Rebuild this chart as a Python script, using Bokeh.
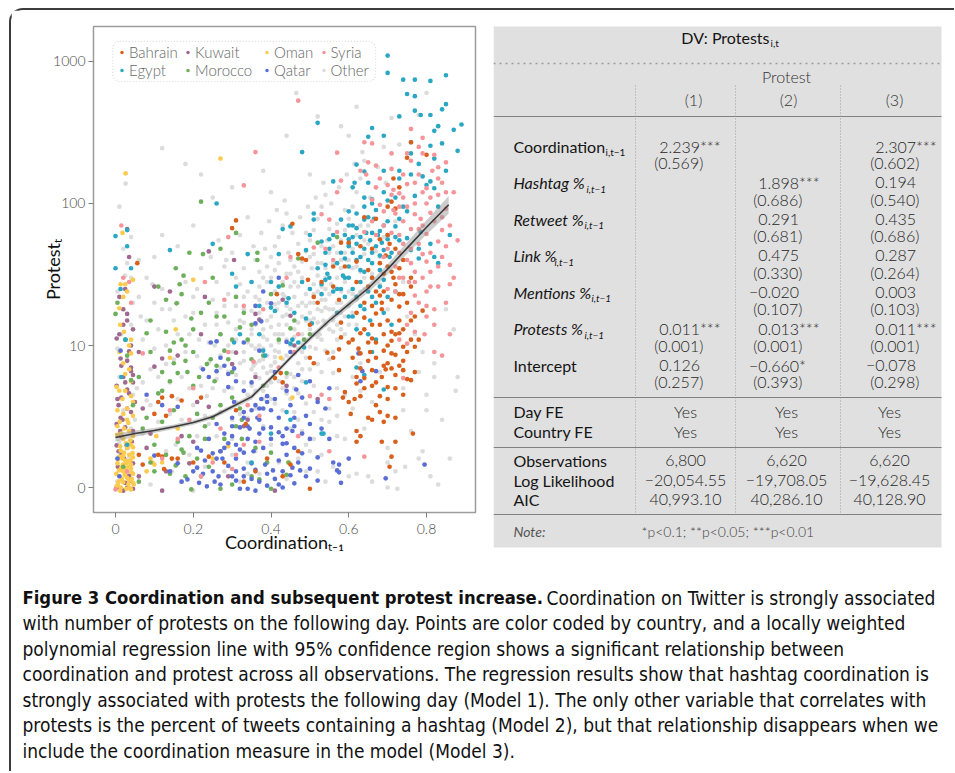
import math
from bokeh.plotting import figure
from bokeh.models import (Range1d, FixedTicker, NumeralTickFormatter, CustomJSTickFormatter,
                          Legend, LegendItem, BoxAnnotation)
from bokeh.layouts import column, row
from bokeh.core.properties import value
from bokeh.embed import file_html
from bokeh.resources import INLINE

# ---------------- data (coordination_{t-1}, protests_t) ----------------
other_pts = [
    (0.005,1.1),(0.02,1.3),(0.035,1.6),(0.01,2.1),(0.04,2.6),(0.02,3.5),(0.045,4.5),(0.01,6),(0.03,8),(0.015,12),
    (0.04,14),(0.005,24),(0.03,38),(0.02,48),(0.045,20),(0.026,138),(0.01,95),(0.04,58),(0.025,31),(0.005,9.5),
    (0.06,1.2),(0.07,2.4),(0.08,4.1),(0.09,6.8),(0.1,9.5),(0.11,13),(0.12,18),(0.13,1.8),(0.14,3.3),(0.06,22),
    (0.08,30),(0.1,42),(0.12,245),(0.14,5.5),(0.13,7.4),(0.09,1.05),(0.11,2.9),(0.07,11),(0.15,15),(0.12,60),
    (0.065,16),(0.095,27),(0.145,1.3),(0.055,5),
    (0.155,2.0),(0.16,4.2),(0.17,6),(0.18,190),(0.18,9),(0.19,12),(0.2,17),(0.21,25),(0.22,35),(0.16,50),
    (0.23,1.4),(0.24,2.8),(0.2,3.8),(0.22,5.2),(0.24,7.6),(0.17,1.1),(0.19,1.7),(0.21,8.4),(0.23,14),(0.25,21),
    (0.2,70),(0.18,28),(0.245,42),(0.16,20),(0.215,11),(0.235,4.4),(0.2,0.95),(0.22,160),(0.25,110),
    (0.26,2.3),(0.27,3.4),(0.28,4.8),(0.29,6.5),(0.3,9),(0.31,11),(0.32,15),(0.33,18),(0.34,24),(0.26,28),
    (0.28,36),(0.3,45),(0.32,60),(0.34,80),(0.27,12),(0.29,14.5),(0.31,19),(0.33,7.8),(0.35,10),(0.26,5.8),
    (0.28,1.3),(0.3,1.7),(0.32,1.1),(0.34,1.5),(0.27,8.5),(0.29,23),(0.31,4),(0.33,5.5),(0.35,6.8),(0.3,130),
    (0.33,35),(0.26,17),(0.34,3.1),(0.28,19),(0.32,27),(0.3,3),(0.255,10),
    (0.36,4.8),(0.37,5.9),(0.38,7),(0.39,8.5),(0.4,10),(0.41,12),(0.42,14),(0.43,16),(0.44,19),(0.36,22),
    (0.37,26),(0.38,30),(0.39,36),(0.4,42),(0.41,50),(0.42,58),(0.43,70),(0.44,85),(0.36,9.5),(0.38,11.5),
    (0.4,13.5),(0.42,9),(0.44,11),(0.35,13),(0.37,17),(0.39,20),(0.41,24),(0.43,28),(0.45,32),(0.36,3.6),
    (0.38,2.7),(0.4,2),(0.42,1.5),(0.44,1.15),(0.37,1.25),(0.41,3.9),(0.43,5),(0.45,6.3),(0.39,6.4),(0.41,7.6),
    (0.36,40),(0.4,120),(0.38,170),(0.44,300),(0.42,38),(0.385,48),(0.435,22),(0.415,18),(0.355,7.2),(0.445,45),
    (0.46,6),(0.47,7.5),(0.48,9),(0.49,11),(0.5,13),(0.51,15.5),(0.52,18),(0.53,21),(0.54,25),(0.46,28),
    (0.47,33),(0.48,39),(0.49,46),(0.5,55),(0.51,65),(0.52,78),(0.53,95),(0.54,115),(0.46,13),(0.48,16),
    (0.5,20),(0.52,24),(0.54,30),(0.47,19),(0.49,23),(0.51,27),(0.53,38),(0.55,45),(0.46,3.4),(0.48,2.5),
    (0.5,1.8),(0.52,1.3),(0.54,1.1),(0.47,4.6),(0.49,3.9),(0.51,5.2),(0.53,6.5),(0.55,8),(0.5,160),(0.48,230),
    (0.52,410),(0.465,600),(0.545,55),(0.505,35),(0.475,10.5),(0.515,9.5),(0.525,12),(0.535,15),
    (0.56,9),(0.57,11),(0.58,13),(0.59,16),(0.6,19),(0.61,23),(0.62,28),(0.63,33),(0.56,38),(0.57,45),
    (0.58,55),(0.59,65),(0.6,78),(0.61,95),(0.62,120),(0.63,150),(0.64,200),(0.56,18),(0.58,24),(0.6,30),
    (0.62,36),(0.64,44),(0.57,3.2),(0.59,4.5),(0.61,6),(0.63,7.5),(0.56,1.4),(0.6,1.2),(0.64,2.6),(0.6,300),
    (0.58,350),(0.62,480),(0.65,70),(0.65,12),(0.555,27),(0.595,40),
    (0.66,4),(0.68,6.5),(0.7,1.9),(0.72,1.3),(0.74,3.5),(0.67,130),(0.69,250),(0.71,400),(0.73,260),(0.7,18),
    (0.68,42),(0.72,75),(0.74,28),(0.66,1.1),(0.75,16),(0.725,0.98),(0.7,1.5),
    (0.76,2.5),(0.78,1.6),(0.8,4.5),(0.82,7.5),(0.84,3),(0.86,1.6),(0.88,6),(0.77,12),(0.79,9),(0.81,1.2),
    (0.83,1.05),(0.85,18),(0.87,13),(0.8,600),(0.78,420),(0.82,6),(0.875,4.8),(0.78,6.5),(0.80,3.5),(0.79,1.8),
    (0.745,1.4),(0.70,1.0),(0.65,1.2),(0.62,1.25),(0.74,5),
    (0.3,5),(0.31,6.2),(0.32,7.5),(0.33,9),(0.34,10.5),(0.35,12),(0.36,14),(0.37,7.8),(0.38,9.5),(0.39,11),
    (0.4,16),(0.41,9.2),(0.42,20),(0.43,12),(0.44,14),(0.45,18),(0.46,22),(0.47,26),(0.48,12),(0.49,15),
    (0.5,17),(0.51,20),(0.52,31),(0.53,26),(0.54,21),(0.55,18),(0.56,24),(0.57,30),(0.58,35),(0.59,28),
    (0.6,40),(0.61,48),(0.62,60),(0.63,70),(0.64,55),(0.45,40),(0.47,52),(0.49,62),(0.51,44),(0.53,50),
    (0.55,66),(0.57,72),(0.59,90),(0.41,34),(0.39,28),(0.37,33),(0.35,28),(0.33,22),(0.31,30),(0.29,10),
    (0.27,7),(0.25,5),(0.23,3.2),(0.21,2.3),(0.19,5),(0.17,3),(0.15,8),(0.13,10),(0.11,6),(0.09,3.8),
    (0.07,5.5),(0.05,3),(0.43,3.5),(0.45,2.6),(0.47,1.6),(0.49,1.3),(0.51,2.2),(0.53,1.7),(0.55,2.9),(0.57,5),
    (0.59,2.2),(0.61,3.6),(0.63,4.8),(0.38,4.2),(0.4,5.5),(0.36,1.8),(0.34,1.25),(0.42,7),(0.44,8.5),
    (0.30,2.2),(0.32,3.3),(0.34,4.5),(0.36,6.3),(0.38,8.0),(0.40,7.2),(0.42,10.5),(0.44,6.0),(0.46,8.8),(0.48,6.8),
    (0.50,9.8),(0.52,11.5),(0.54,14),(0.56,12.5),(0.58,17),(0.60,14),(0.62,21),(0.64,25),(0.66,32),(0.68,27),
    (0.31,13),(0.33,14.5),(0.35,17.5),(0.37,21),(0.39,15),(0.41,19.5),(0.43,23),(0.45,26),(0.47,14.5),(0.49,19),
    (0.51,23),(0.53,17.5),(0.55,23),(0.57,20),(0.59,45),(0.61,35),(0.63,42),(0.65,52),(0.67,46),(0.69,58),
    (0.355,50),(0.375,62),(0.395,75),(0.415,90),(0.435,105),(0.455,62),(0.475,80),(0.495,95),(0.515,110),(0.535,140),
    (0.555,100),(0.575,130),(0.595,160),(0.615,190),(0.635,230),(0.655,110),(0.675,180),(0.695,140),(0.285,40),(0.265,55),
    (0.22,7),(0.24,10.5),(0.26,14),(0.2,22),(0.18,16),(0.16,12),(0.14,18),(0.12,25),(0.1,20),(0.08,15),
    (0.06,40),(0.04,30),(0.02,18),(0.45,4.2),(0.47,3.0),(0.49,2.0),(0.51,3.4),(0.53,3.0),(0.55,3.6),(0.57,2.3),
    (0.35,5.2),(0.36,7.5),(0.37,10),(0.38,13),(0.39,5.2),(0.40,6.6),(0.41,8.3),(0.42,12),(0.43,8),(0.44,16.5),
    (0.45,10),(0.46,11.5),(0.47,9.5),(0.48,20),(0.49,8.2),(0.50,15),(0.51,12),(0.52,14.5),(0.53,11),(0.54,18.5),
    (0.55,13),(0.56,15),(0.57,14),(0.58,20),(0.59,12),(0.60,24),(0.61,17),(0.62,14),(0.63,24),(0.64,30),
    (0.40,30),(0.42,26),(0.44,32),(0.46,36),(0.48,30),(0.50,42),(0.52,38),(0.54,35),(0.56,50),(0.58,40),
    (0.38,4.8),(0.40,4.2),(0.42,5.6),(0.44,4.6),(0.46,5),(0.48,5.6),(0.50,6.8),(0.52,7.4),(0.54,9.2),(0.56,6.4),
]
kuwait_pts = [
    (0.03,16.7),(0.02,14),(0.03,15),(0.003,11.2),(0.013,8.1),(0.03,7.8),(0.04,7.0),(0.045,6.2),(0.02,6.0),(0.045,5.5),
    (0.003,5.2),(0.03,4.9),(0.035,4.6),(0.015,4.3),(0.008,3.8),(0.04,3.4),(0.013,3.1),(0.003,2.8),(0.025,2.65),(0.045,2.5),
    (0.015,2.3),(0.003,1.98),(0.03,1.9),(0.015,1.7),(0.045,1.48),(0.01,1.35),(0.035,1.21),(0.025,1.08),(0.003,1.0),(0.045,0.98),
    (0.02,0.95),(0.04,10),(0.01,22),(0.025,25),(0.12,0.95),(0.19,1.48),(0.17,2.3),(0.20,2.1),(0.21,4.0),(0.24,3.7),
    (0.10,7.1),(0.12,8.1),(0.16,8.5),(0.22,12),(0.31,8.9),(0.30,7.4),(0.37,15.2),(0.45,16.2),(0.36,16.7),(0.43,21),
    (0.44,5.2),(0.52,4.2),(0.34,3.0),(0.33,2.7),(0.41,0.95),(0.29,1.2),(0.03,66),(0.035,42),(0.24,46),(0.305,40),
    (0.10,26),(0.14,24),(0.23,22),(0.07,3.6),(0.09,2.4),(0.13,1.3),(0.27,1.8),(0.36,6.0),(0.46,10),(0.06,9),(0.08,1.9),
    (0.006,1.4),(0.022,1.6),(0.038,1.12),(0.042,2.1),(0.012,2.5),(0.03,3.6),(0.005,4.2),(0.025,5.5),(0.04,6.6),(0.015,7.2),
    (0.035,9.1),(0.01,12),(0.045,13),(0.02,18),(0.03,1.0),(0.018,3.0),(0.008,1.8),(0.05,4.0),(0.06,1.2),(0.028,2.0),
]
oman_pts = [
    (0.025,27),(0.045,29),(0.01,18.3),(0.022,12.5),(0.035,10),(0.04,8.8),(0.02,7.5),(0.003,5.1),(0.025,6.3),(0.04,4.4),
    (0.045,4.0),(0.025,4.8),(0.005,3.5),(0.02,3.3),(0.045,3.2),(0.03,3.0),(0.005,2.7),(0.035,2.5),(0.02,2.2),(0.04,2.0),
    (0.013,1.82),(0.022,1.76),(0.035,1.7),(0.045,1.63),(0.018,1.6),(0.005,1.48),(0.028,1.48),(0.04,1.45),(0.015,1.38),(0.04,1.36),
    (0.025,1.28),(0.045,1.25),(0.01,1.2),(0.03,1.17),(0.035,1.12),(0.02,1.09),(0.045,1.08),(0.003,1.02),(0.028,0.98),(0.04,0.97),
    (0.012,0.95),(0.035,1.4),(0.025,1.55),(0.01,1.65),(0.03,1.9),(0.015,2.4),(0.045,2.3),(0.008,1.1),(0.02,1.3),(0.038,1.55),
    (0.09,1.6),(0.095,1.5),(0.10,1.45),(0.08,1.3),(0.12,1.5),(0.20,29),(0.155,13),(0.14,8.2),(0.425,8.2),(0.29,1.95),
    (0.445,1.5),(0.455,4.3),(0.026,163),(0.018,62),(0.27,207),(0.013,27),(0.03,24),(0.02,22),(0.105,2.3),(0.25,1.6),
    (0.16,2.6),(0.012,14),(0.04,11),(0.035,6.8),(0.01,9),
    (0.006,1.05),(0.016,1.15),(0.024,1.22),(0.033,1.05),(0.042,1.15),(0.009,1.32),(0.019,1.45),(0.031,1.52),(0.044,1.75),(0.012,1.95),
    (0.027,2.05),(0.038,2.15),(0.004,2.35),(0.022,2.6),(0.033,2.85),(0.047,1.05),(0.014,1.0),(0.036,0.99),(0.02,1.68),(0.041,1.28),
    (0.007,1.58),(0.03,3.6),(0.018,4.2),(0.04,5.6),(0.01,4.8),(0.026,1.37),(0.045,1.92),(0.002,1.25),(0.034,2.0),(0.011,2.9),
]
morocco_pts = [
    (0.165,27),(0.175,31),(0.17,23),(0.157,19.8),(0.195,15.5),(0.09,15),(0.08,12.2),(0.13,12.5),(0.15,10.5),(0.17,11),
    (0.14,9.2),(0.20,9),(0.18,7.8),(0.185,6.5),(0.16,6.4),(0.215,6.0),(0.235,7.4),(0.245,8),(0.26,7.2),(0.255,5.6),
    (0.11,4.6),(0.14,5.6),(0.20,5.2),(0.08,3.1),(0.07,2.6),(0.23,2.2),(0.175,1.76),(0.17,1.85),(0.19,2.3),(0.155,1.43),
    (0.195,0.97),(0.22,1.2),(0.14,1.25),(0.15,3.5),(0.12,6.5),(0.03,8.5),(0.0,16.7),(0.005,20),(0.025,11),(0.04,5.7),
    (0.045,3.8),(0.02,1.4),(0.25,30),(0.24,20),(0.26,16),(0.28,16),(0.31,22),(0.33,17),(0.35,14),(0.32,13.4),
    (0.34,11),(0.28,9.2),(0.29,8),(0.30,6.5),(0.30,4.3),(0.32,3.6),(0.325,3.0),(0.31,2.7),(0.28,2.2),(0.325,2.2),
    (0.36,1.9),(0.40,1.76),(0.39,1.5),(0.445,1.5),(0.44,1.23),(0.40,0.98),(0.37,1.14),(0.35,1.2),(0.30,1.05),(0.27,0.98),
    (0.24,1.4),(0.43,26.5),(0.40,23),(0.46,15),(0.45,13.2),(0.485,11),(0.50,12),(0.44,6.4),(0.31,62),(0.365,45),
    (0.365,40),(0.52,53),(0.47,41),(0.57,58),(0.22,103),(0.225,44),(0.155,35),(0.11,26),(0.19,45),(0.27,48),
    (0.10,2.0),(0.12,2.9),(0.21,3.3),(0.06,1.1),(0.09,1.5),(0.38,8.5),(0.42,11),
    (0.1,1.3),(0.13,1.7),(0.16,2.1),(0.18,1.2),(0.21,1.6),(0.23,2.7),(0.25,3.1),(0.27,3.8),(0.12,4.8),(0.15,7.5),
    (0.18,10),(0.2,13),(0.22,17),(0.13,21),(0.09,9),(0.06,6),(0.27,12),(0.3,11),(0.35,8),(0.38,5.2),
]
qatar_pts = [
    (0.375,4.2),(0.39,4.4),(0.36,3.8),(0.38,3.6),(0.39,4.0),(0.365,3.1),(0.33,3.1),(0.30,3.1),(0.32,2.65),(0.345,2.6),
    (0.37,2.4),(0.40,2.65),(0.43,2.3),(0.455,2.5),(0.29,2.05),(0.31,2.0),(0.33,1.76),(0.355,1.8),(0.38,1.9),(0.275,1.6),
    (0.31,1.6),(0.33,1.36),(0.36,1.33),(0.385,1.45),(0.405,1.32),(0.43,1.3),(0.455,1.38),(0.475,1.32),(0.50,1.36),(0.52,1.12),
    (0.46,1.07),(0.39,1.03),(0.32,0.98),(0.34,0.98),(0.36,0.95),(0.30,1.2),(0.42,1.05),(0.43,2.03),(0.48,1.74),(0.50,2.2),
    (0.55,2.2),(0.53,2.6),(0.57,1.32),(0.575,1.45),(0.52,1.63),(0.46,1.9),(0.305,4.0),(0.29,5.1),(0.31,5.6),(0.35,3.5),
    (0.37,3.0),(0.40,3.5),(0.44,4.8),(0.465,4.9),(0.48,4.3),(0.45,3.8),(0.42,3.1),(0.46,3.1),(0.49,3.2),(0.44,2.6),
    (0.36,14.3),(0.375,14.8),(0.37,9.2),(0.33,10.5),(0.305,6.9),(0.29,6.3),(0.28,7.2),(0.44,10.6),(0.45,9.0),(0.40,19.8),
    (0.36,19),(0.38,24),(0.42,30),(0.55,5),(0.54,3.6),(0.575,1.28),(0.56,1.5),(0.795,1.45),(0.695,1.16),(0.67,6.6),
    (0.635,6.6),(0.63,5.6),(0.625,8.8),(0.08,4.5),(0.12,3.8),(0.16,3.7),(0.225,6.8),(0.24,6.0),(0.26,6.6),(0.245,10.5),
    (0.26,10.7),(0.27,8.2),(0.22,1.82),(0.25,1.74),(0.26,1.6),(0.27,1.8),(0.21,1.38),(0.225,1.25),(0.20,1.3),(0.185,1.14),
    (0.215,1.08),(0.235,1.02),(0.255,1.1),(0.265,1.2),(0.013,9.2),(0.01,1.2),(0.005,1.6),(0.16,1.48),(0.14,1.3),(0.17,1.1),
    (0.10,1.68),(0.35,5.5),(0.33,4.8),(0.41,6.5),(0.52,4.0),(0.50,5.6),(0.47,6.2),(0.42,1.55),(0.44,1.7),(0.34,2.2),
    (0.28,2.4),(0.26,2.8),(0.24,2.2),(0.58,1.08),(0.60,1.6),(0.49,1.2),(0.31,1.3),(0.35,1.15),
    (0.27,1.05),(0.29,1.42),(0.31,1.12),(0.33,1.2),(0.35,1.48),(0.37,1.1),(0.39,1.25),(0.41,1.15),(0.43,1.0),(0.45,1.22),
    (0.47,1.5),(0.28,1.9),(0.3,2.3),(0.32,1.85),(0.34,2.7),(0.36,2.1),(0.38,2.6),(0.4,2.2),(0.42,2.45),(0.44,2.05),
    (0.46,2.7),(0.48,2.4),(0.5,2.8),(0.3,2.7),(0.33,3.4),(0.37,3.6),(0.41,4.2),(0.25,1.3),(0.23,1.55),(0.21,1.9),
]
egypt_pts = [
    (0.70,1100),(0.70,830),(0.74,745),(0.77,745),(0.81,730),(0.85,800),(0.75,590),(0.77,570),(0.85,500),(0.77,450),
    (0.84,460),(0.73,410),(0.785,420),(0.81,420),(0.89,360),(0.83,350),(0.66,340),(0.82,325),(0.69,300),(0.65,295),
    (0.76,270),(0.84,265),(0.76,225),(0.88,235),(0.81,255),(0.82,207),(0.78,190),(0.69,170),(0.73,170),(0.76,160),
    (0.79,155),(0.81,143),(0.73,150),(0.65,140),(0.62,188),(0.64,168),(0.615,140),(0.82,128),(0.66,107),(0.66,100),
    (0.64,95),(0.77,113),(0.75,88),(0.80,135),(0.73,78),(0.74,95),(0.70,105),(0.72,110),(0.665,78),(0.69,70),
    (0.64,77),(0.62,67),(0.68,64),(0.70,60),(0.72,69),(0.73,55),(0.75,57),(0.785,63),(0.78,48),(0.76,47),
    (0.78,41),(0.81,52),(0.82,42),(0.83,38),(0.87,330),(0.85,170),(0.83,95),(0.86,60),
    (0.61,45),(0.62,52),(0.63,42),(0.63,58),(0.64,48),(0.645,62),(0.65,40),(0.655,55),(0.66,45),(0.67,50),
    (0.675,60),(0.68,43),(0.685,53),(0.69,47),(0.70,56),(0.705,42),(0.62,40),(0.66,38),(0.60,50),(0.60,36),
    (0.60,30),(0.61,25),(0.62,22),(0.63,28),(0.64,18),(0.65,24),(0.655,15),(0.66,30),(0.67,20),(0.68,26),
    (0.69,17),(0.70,22),(0.71,14),(0.65,12),(0.62,13),(0.64,33),(0.61,16),(0.69,29),(0.72,24),(0.67,11),
    (0.62,7),(0.69,4.9),(0.64,6.2),(0.66,9),
    (0.52,370),(0.48,230),(0.56,143),(0.61,130),(0.60,88),(0.51,85),(0.51,77),(0.43,66),(0.45,69),(0.50,60),
    (0.53,54),(0.55,56),(0.34,44),(0.42,44),(0.49,47),(0.54,45),(0.55,48),(0.54,37),(0.59,41),(0.60,52),
    (0.58,77),(0.59,60),(0.60,56),(0.61,70),
    (0.30,32),(0.31,26),(0.35,28),(0.37,19),(0.40,28),(0.40,18.5),(0.41,17.5),(0.42,26),(0.44,20),(0.445,21.5),
    (0.46,17),(0.49,15.5),(0.505,14.3),(0.53,23),(0.53,27),(0.54,29),(0.545,32),(0.56,24),(0.57,25),(0.58,25),
    (0.59,22),(0.585,31),(0.305,10.5),(0.32,12),(0.37,12),(0.38,9.2),(0.385,8.5),(0.45,10.3),(0.455,11),(0.47,10.5),
    (0.485,9.7),(0.49,5.5),(0.40,2.4),(0.44,3.4),(0.45,3.0),(0.35,1.5),(0.53,2.4),(0.535,2.4),
    (0.013,25),(0.026,11),(0.015,6),(0.03,2.0),(0.0,59),(0.03,65),(0.03,50),(0.0,35),(0.04,35),(0.14,47),
    (0.25,52),(0.26,100),
    (0.56,60),(0.57,38),(0.58,45),(0.59,30),(0.6,70),(0.61,58),(0.62,85),(0.63,34),(0.64,110),(0.65,80),
    (0.66,62),(0.67,90),(0.68,34),(0.69,120),(0.7,75),(0.71,45),(0.72,58),(0.66,22),(0.63,19),(0.6,16),
    (0.57,17),(0.55,30),(0.52,35),(0.5,25),(0.48,28),
]
bahrain_pts = [
    (0.68,22.5),(0.69,24),(0.685,20),(0.73,23),(0.72,27),(0.715,30),(0.74,23),(0.73,18.8),(0.76,30),(0.79,17.6),
    (0.64,15.7),(0.67,16.8),(0.685,18),(0.73,12.2),(0.71,12.5),(0.63,12.2),(0.66,11.2),(0.65,10.5),(0.67,10.5),(0.69,12),
    (0.71,10.8),(0.77,9.8),(0.69,9.2),(0.625,9.5),(0.655,9.0),(0.71,8.8),(0.72,8.6),(0.67,8.2),(0.61,8.2),(0.65,7.8),
    (0.70,7.5),(0.74,7.8),(0.71,6.9),(0.63,6.9),(0.695,6.8),(0.66,6.7),(0.74,6.7),(0.62,6.0),(0.64,5.9),(0.685,6.0),
    (0.75,5.8),(0.76,5.7),(0.67,5.5),(0.62,5.4),(0.70,5.1),(0.72,5.0),(0.64,5.0),(0.615,4.2),(0.63,4.4),(0.68,4.4),
    (0.605,3.3),(0.65,3.1),(0.66,3.0),(0.69,2.9),(0.70,3.2),(0.72,3.1),(0.67,3.8),(0.62,2.5),(0.63,2.3),(0.62,2.1),
    (0.685,2.1),(0.72,2.1),(0.765,2.4),(0.71,1.65),(0.705,1.4),(0.74,13),(0.76,15),(0.78,11),(0.70,15),(0.66,14),
    (0.64,20),(0.62,17),(0.75,9),(0.73,7.2),(0.77,6.5),
    (0.76,270),(0.80,220),(0.75,210),(0.715,150),(0.73,130),(0.71,103),(0.70,95),(0.72,92),(0.64,80),(0.67,78),
    (0.70,60),(0.68,56),(0.63,50),(0.705,52),(0.66,48),(0.72,48),(0.695,43),(0.62,39),(0.68,38),(0.70,36),
    (0.74,40),(0.65,34),(0.66,30),(0.71,33),
    (0.31,76),(0.30,67),(0.455,72),(0.58,53),(0.60,53),(0.47,44),(0.48,41),(0.56,36),(0.59,36),(0.49,40),
    (0.415,23),(0.495,29),(0.52,20),(0.51,22),(0.53,28),(0.56,26),(0.575,21),(0.50,14),(0.58,14.5),(0.58,11.4),
    (0.60,10.5),(0.575,9.4),(0.56,8.2),(0.575,6.7),(0.545,8.9),(0.50,8.2),(0.51,7.5),(0.59,4.7),(0.585,4.3),(0.60,4.0),
    (0.43,5.5),(0.425,6.4),(0.41,5.9),(0.335,2.8),(0.31,3.5),(0.43,1.2),(0.50,0.98),(0.39,1.6),(0.45,1.45),(0.47,1.8),
    (0.12,4.3),(0.145,4.4),(0.11,4.0),(0.10,3.3),(0.17,4.1),(0.13,3.2),(0.06,1.7),(0.07,1.45),(0.11,1.7),(0.12,1.65),
    (0.145,1.6),(0.16,1.6),(0.20,1.5),(0.24,1.65),(0.125,1.35),(0.22,4.3),(0.056,38),(0.28,1.5),(0.36,1.3),(0.33,1.1),
    (0.61,11),(0.63,8.8),(0.64,13),(0.66,19),(0.67,24),(0.68,14),(0.69,7.2),(0.7,10),(0.71,21),(0.72,12),
    (0.73,15),(0.74,9.8),(0.75,20),(0.76,11),(0.77,16),(0.66,5.2),(0.68,3.4),(0.7,4.2),(0.72,6.2),(0.74,4.5),
    (0.62,28),(0.65,26),(0.69,32),(0.73,35),(0.76,26),
]
syria_pts = [
    (0.47,530),(0.36,230),(0.57,228),(0.33,134),(0.58,145),(0.57,120),(0.29,58),(0.53,84),(0.55,77),(0.57,63),
    (0.45,42),(0.51,49),(0.54,48),(0.56,40),
    (0.76,335),(0.64,270),(0.66,265),(0.71,225),(0.75,225),(0.79,225),(0.85,195),(0.65,195),(0.67,185),(0.63,170),
    (0.645,160),(0.815,170),(0.83,150),(0.70,135),(0.715,125),(0.75,137),(0.80,128),(0.83,115),(0.81,110),(0.73,118),
    (0.66,106),(0.68,98),(0.77,100),(0.85,92),(0.77,84),(0.715,90),(0.74,75),(0.785,78),(0.81,86),(0.84,80),
    (0.69,70),(0.64,63),(0.73,60),(0.76,66),(0.80,61),(0.83,54),(0.85,50),(0.78,52),(0.70,48),(0.73,45),
    (0.81,45),(0.75,40),(0.80,39),(0.83,36),(0.86,37),(0.72,36),(0.77,33),(0.79,70),(0.74,110),(0.68,150),
    (0.71,175),(0.78,160),(0.82,220),(0.79,290),(0.84,140),(0.87,120),(0.86,70),(0.88,55),(0.67,60),(0.69,42),
    (0.76,48),
    (0.74,30),(0.755,28),(0.77,28),(0.79,30),(0.81,26),(0.83,26),(0.87,30),(0.78,20),(0.80,19),(0.80,16),
    (0.76,17),(0.77,22.5),(0.73,11),(0.75,10.3),(0.795,12),(0.82,9),(0.84,8.5),(0.74,5.9),(0.64,1.65),(0.72,24),
    (0.75,14),(0.82,14),(0.85,20),(0.86,12),
    (0.04,20),(0.07,8.8),(0.20,5),(0.23,28),(0.14,3.5),(0.0,0.97),(0.03,1.3),(0.28,21),(0.33,19),(0.44,30),
    (0.47,12),(0.46,9),(0.355,7.7),(0.34,3.8),(0.37,2.1),(0.33,2.0),(0.47,2.3),(0.55,1.8),(0.31,1.7),(0.30,1.35),
    (0.37,3.2),(0.50,4.4),(0.55,4.2),(0.53,4.5),(0.12,1.6),(0.16,2.2),(0.22,1.2),(0.02,30),(0.035,28),(0.015,70),
    (0.25,1.5),(0.27,2.6),(0.19,3.0),(0.42,7.0),(0.38,18),(0.29,9),
    (0.7,25),(0.71,62),(0.72,85),(0.73,30),(0.74,52),(0.75,95),(0.76,38),(0.77,140),(0.78,66),(0.79,44),
    (0.8,100),(0.81,33),(0.82,75),(0.83,180),(0.84,42),(0.85,120),(0.86,27),(0.78,250),(0.74,160),(0.71,115),
    (0.69,88),(0.67,130),(0.66,75),(0.8,24),(0.82,18),(0.77,12.5),(0.84,65),(0.76,200),(0.73,95),(0.79,120),
]

# loess fit with 95% band
fit_x = [0, 0.05, 0.1, 0.15, 0.2, 0.25, 0.3, 0.35, 0.4, 0.45, 0.5, 0.55, 0.6, 0.65, 0.7, 0.75, 0.8, 0.857]
fit_y = [2.25, 2.4, 2.52, 2.68, 2.87, 3.15, 3.7, 4.35, 5.9, 8.2, 11.2, 15.0, 19.5, 25.3, 34.5, 48.5, 68, 98]
fit_lo = [2.11, 2.28, 2.42, 2.58, 2.77, 3.04, 3.56, 4.17, 5.66, 7.87, 10.7, 14.3, 18.4, 23.6, 31.8, 44.0, 60.6, 84.8]
fit_hi = [2.40, 2.52, 2.63, 2.78, 2.98, 3.27, 3.85, 4.53, 6.15, 8.54, 11.7, 15.8, 20.6, 27.1, 37.4, 53.4, 76.3, 113]

x_ticks = [0, 0.2, 0.4, 0.6, 0.8]
y_ticks = [1, 10, 100, 1000]   # labelled 0, 10, 100, 1000

legend_columns = [["Bahrain", "Egypt"], ["Kuwait", "Morocco"], ["Oman", "Qatar"], ["Syria", "Other"]]
draw_order = ["Other", "Kuwait", "Oman", "Morocco", "Qatar", "Egypt", "Bahrain", "Syria"]
points = {"Bahrain": bahrain_pts, "Egypt": egypt_pts, "Kuwait": kuwait_pts, "Morocco": morocco_pts,
          "Oman": oman_pts, "Qatar": qatar_pts, "Syria": syria_pts, "Other": other_pts}
palette = {"Bahrain": "#D9601C", "Egypt": "#2AA7C3", "Kuwait": "#A0698F", "Morocco": "#6DAF5A",
           "Oman": "#FCCB4E", "Qatar": "#5B6ED6", "Syria": "#F5959A", "Other": "#DCDCDC"}

# regression table
row_labels = ["Coordination", "Hashtag %", "Retweet %", "Link %", "Mentions %", "Protests %", "Intercept"]
row_subs = ["i,t−1", "i,t−1", "i,t−1", "i,t−1", "i,t−1", "i,t−1", ""]
row_italic = [False, True, True, True, True, True, False]
m1_coef = ["2.239***", "", "", "", "", "0.011***", "0.126"]
m1_se = ["(0.569)", "", "", "", "", "(0.001)", "(0.257)"]
m2_coef = ["", "1.898***", "0.291", "0.475", "−0.020", "0.013***", "−0.660*"]
m2_se = ["", "(0.686)", "(0.681)", "(0.330)", "(0.107)", "(0.001)", "(0.393)"]
m3_coef = ["2.307***", "0.194", "0.435", "0.287", "0.003", "0.011***", "−0.078"]
m3_se = ["(0.602)", "(0.540)", "(0.686)", "(0.264)", "(0.103)", "(0.001)", "(0.298)"]
fe_labels = ["Day FE", "Country FE"]
fe_values = [["Yes", "Yes", "Yes"], ["Yes", "Yes", "Yes"]]
stat_labels = ["Observations", "Log Likelihood", "AIC"]
stat_values = [["6,800", "6,620", "6,620"],
               ["−20,054.55", "−19,708.05", "−19,628.45"],
               ["40,993.10", "40,286.10", "40,128.90"]]
col_heads = ["(1)", "(2)", "(3)"]
note_text = "*p<0.1; **p<0.05; ***p<0.01"

caption_bold = "Figure 3  Coordination and subsequent protest increase."
caption_lines = [
    "Coordination on Twitter is strongly associated",
    "with number of protests on the following day. Points are color coded by country, and a locally weighted",
    "polynomial regression line with 95% confidence region shows a significant relationship between",
    "coordination and protest across all observations. The regression results show that hashtag coordination is",
    "strongly associated with protests the following day (Model 1). The only other variable that correlates with",
    "protests is the percent of tweets containing a hashtag (Model 2), but that relationship disappears when we",
    "include the coordination measure in the model (Model 3).",
]

LATO = "Lato"
LATO_L = "Lato Light, Lato"


def no_align(fig):
    try:
        fig.frame_align = False
    except Exception:
        pass


# ---------------- scatter ----------------
p = figure(width=482, height=560, x_range=Range1d(-0.0566, 0.926), y_range=Range1d(0.667, 1763),
           y_axis_type="log", toolbar_location=None, output_backend="svg",
           min_border_left=82, min_border_right=18, min_border_top=16, min_border_bottom=58)
no_align(p)
p.grid.visible = False
p.outline_line_color = "#9C9C9C"
p.outline_line_width = 1.5
p.background_fill_color = "white"

for ax in (p.xaxis[0], p.yaxis[0]):
    ax.axis_line_color = None
    ax.major_tick_out = 5
    ax.major_tick_in = 0
    ax.minor_tick_out = 0
    ax.minor_tick_in = 0
    ax.major_tick_line_color = "#808080"
    ax.major_label_text_font = LATO_L
    ax.major_label_text_font_size = "14px"
    ax.major_label_text_color = "#4a4a4a"
    ax.axis_label_text_font = LATO
    ax.axis_label_text_font_size = "18px"
    ax.axis_label_text_font_style = "normal"
    ax.axis_label_text_color = "#111111"
p.xaxis.ticker = FixedTicker(ticks=x_ticks)
p.xaxis.formatter = NumeralTickFormatter(format="0.[0]")
p.xaxis.major_label_standoff = 6
p.xaxis.axis_label = "Coordinationₜ₋₁"
p.xaxis.axis_label_standoff = -6
p.yaxis.ticker = FixedTicker(ticks=y_ticks)
p.yaxis.formatter = CustomJSTickFormatter(code="return tick < 2 ? '0' : tick.toFixed(0);")
p.yaxis.major_label_standoff = 3
p.yaxis.axis_label = "Protestₜ"
p.yaxis.axis_label_standoff = -14

renderers = {}
for name in draw_order:
    pts = points[name]
    xs = [a for a, b in pts]
    ys = [b for a, b in pts]
    renderers[name] = p.scatter(xs, ys, size=4.7, fill_color=palette[name], line_color=None, fill_alpha=1.0)

p.varea(x=fit_x, y1=fit_lo, y2=fit_hi, fill_color="#8F8F8F", fill_alpha=0.45)
p.line(fit_x, fit_y, line_color="#3A3A3A", line_width=1.6)

# legend frame (dotted, rounded) and four two-row legend columns
box = BoxAnnotation(left=-0.007, right=0.669, top=1383, bottom=723, fill_color="white", fill_alpha=1.0,
                    line_color="#8A8A8A", line_dash="1 2", line_width=1.2)
try:
    box.border_radius = 7
except Exception:
    pass
p.add_layout(box)

legend_x = [24, 90, 169, 225.5]
for lx, names in zip(legend_x, legend_columns):
    lg = Legend(items=[LegendItem(label=n, renderers=[renderers[n]]) for n in names],
                location=(lx, 433), orientation="vertical",
                label_text_font=LATO_L, label_text_font_size="15px", label_text_color="#666666",
                glyph_width=9, glyph_height=14, label_standoff=3, label_height=14, spacing=0,
                padding=0, margin=0, border_line_color=None, background_fill_alpha=0)
    p.add_layout(lg)

# ---------------- table ----------------
TW, TH = 461, 560
t = figure(width=TW, height=TH, x_range=Range1d(0, TW), y_range=Range1d(TH, 0),
           x_axis_type=None, y_axis_type=None, toolbar_location=None, output_backend="svg",
           min_border=0, outline_line_color=None)
no_align(t)
t.grid.visible = False


def txt(fig, x, y, s, size="16px", font=LATO, style="normal", align="left", color="#151515", baseline="middle"):
    fig.text(x=[x], y=[y], text=[s], text_font=value(font), text_font_size=size, text_font_style=style,
             text_align=align, text_baseline=baseline, text_color=color)


t.quad(left=0, right=448, top=16, bottom=537, fill_color="#E0E0E0", line_color=None)
t.line([0, 448], [53, 53], line_color="#9A9A9A", line_width=1.6, line_dash="2 4")
for yy in (106, 387, 437, 504):
    t.line([0, 448], [yy, yy], line_color="#808080", line_width=1.2)
for xx in (142, 242, 347):
    t.line([xx, xx], [75, 504], line_color="#A0A0A0", line_width=1, line_dash="1 2")

txt(t, 276, 27, "DV: Protests", align="right")
txt(t, 277, 32, "i,t", size="10px")
txt(t, 293, 66, "Protest", font=LATO_L, align="center", color="#333333")
for cx, h in zip((200, 295, 401), col_heads):
    txt(t, cx, 89, h, font=LATO_L, align="center", color="#333333")

CW = {"(": 5.0, ")": 5.0, "−": 9.3, ".": 3.9, ",": 3.9}


def numw(s):
    return sum(CW.get(ch, 9.3) for ch in s)


def put_num(dec_x, y, s):
    if not s:
        return
    ip = s.split(".")[0]
    txt(t, dec_x - numw(ip), y, s, font=LATO_L, color="#262626")


sub_x = [112, 93, 91, 61, 98, 91, 0]
dec_cols = (175, 274, 391)
for i, lab in enumerate(row_labels):
    yc = 135.5 + 36.5 * i
    txt(t, 20, yc, lab, style="italic" if row_italic[i] else "normal")
    if row_subs[i]:
        txt(t, sub_x[i], yc + 6, row_subs[i], size="10px", style="italic" if row_italic[i] else "normal")
    for dx, coefs, ses in zip(dec_cols, (m1_coef, m2_coef, m3_coef), (m1_se, m2_se, m3_se)):
        put_num(dx, yc, coefs[i])
        put_num(dx, yc + 16.5, ses[i])

col_centers = (192, 293, 396)
for i, lab in enumerate(fe_labels):
    yc = 401 + 20 * i
    txt(t, 20, yc, lab)
    for cx, v in zip(col_centers, fe_values[i]):
        txt(t, cx, yc, v, font=LATO_L, align="center", color="#262626")
for i, lab in enumerate(stat_labels):
    yc = 450 + 19.5 * i
    txt(t, 20, yc, lab)
    for cx, v in zip(col_centers, stat_values[i]):
        txt(t, cx, yc, v, font=LATO_L, align="center", color="#262626")
txt(t, 20, 521, "Note:", size="14px", style="italic", color="#555555")
txt(t, 148, 521, note_text, size="14px", font=LATO_L, color="#444444")

# ---------------- caption ----------------
CWID, CH = 943, 201
c = figure(width=CWID, height=CH, x_range=Range1d(0, CWID), y_range=Range1d(CH, 0),
           x_axis_type=None, y_axis_type=None, toolbar_location=None, output_backend="svg",
           min_border=0, outline_line_color=None)
no_align(c)
c.grid.visible = False
CAPF = "DejaVu Sans Condensed, DejaVu Sans, sans-serif"
txt(c, 11, 27, caption_bold, size="18.3px", font=CAPF, style="bold", color="#111111")
txt(c, 535, 27, caption_lines[0], size="19px", font=CAPF, color="#111111")
for i, line in enumerate(caption_lines[1:]):
    txt(c, 11, 27 + 25.5 * (i + 1), line, size="19px", font=CAPF, color="#111111")

layout = column(row(p, column(t)), c,
                styles={"margin-left": "9px", "margin-top": "8px",
                        "border-top": "2px solid #3C3C3C", "border-left": "2px solid #3C3C3C",
                        "border-top-left-radius": "14px"})

open("out.html", "w").write(file_html(layout, INLINE))
